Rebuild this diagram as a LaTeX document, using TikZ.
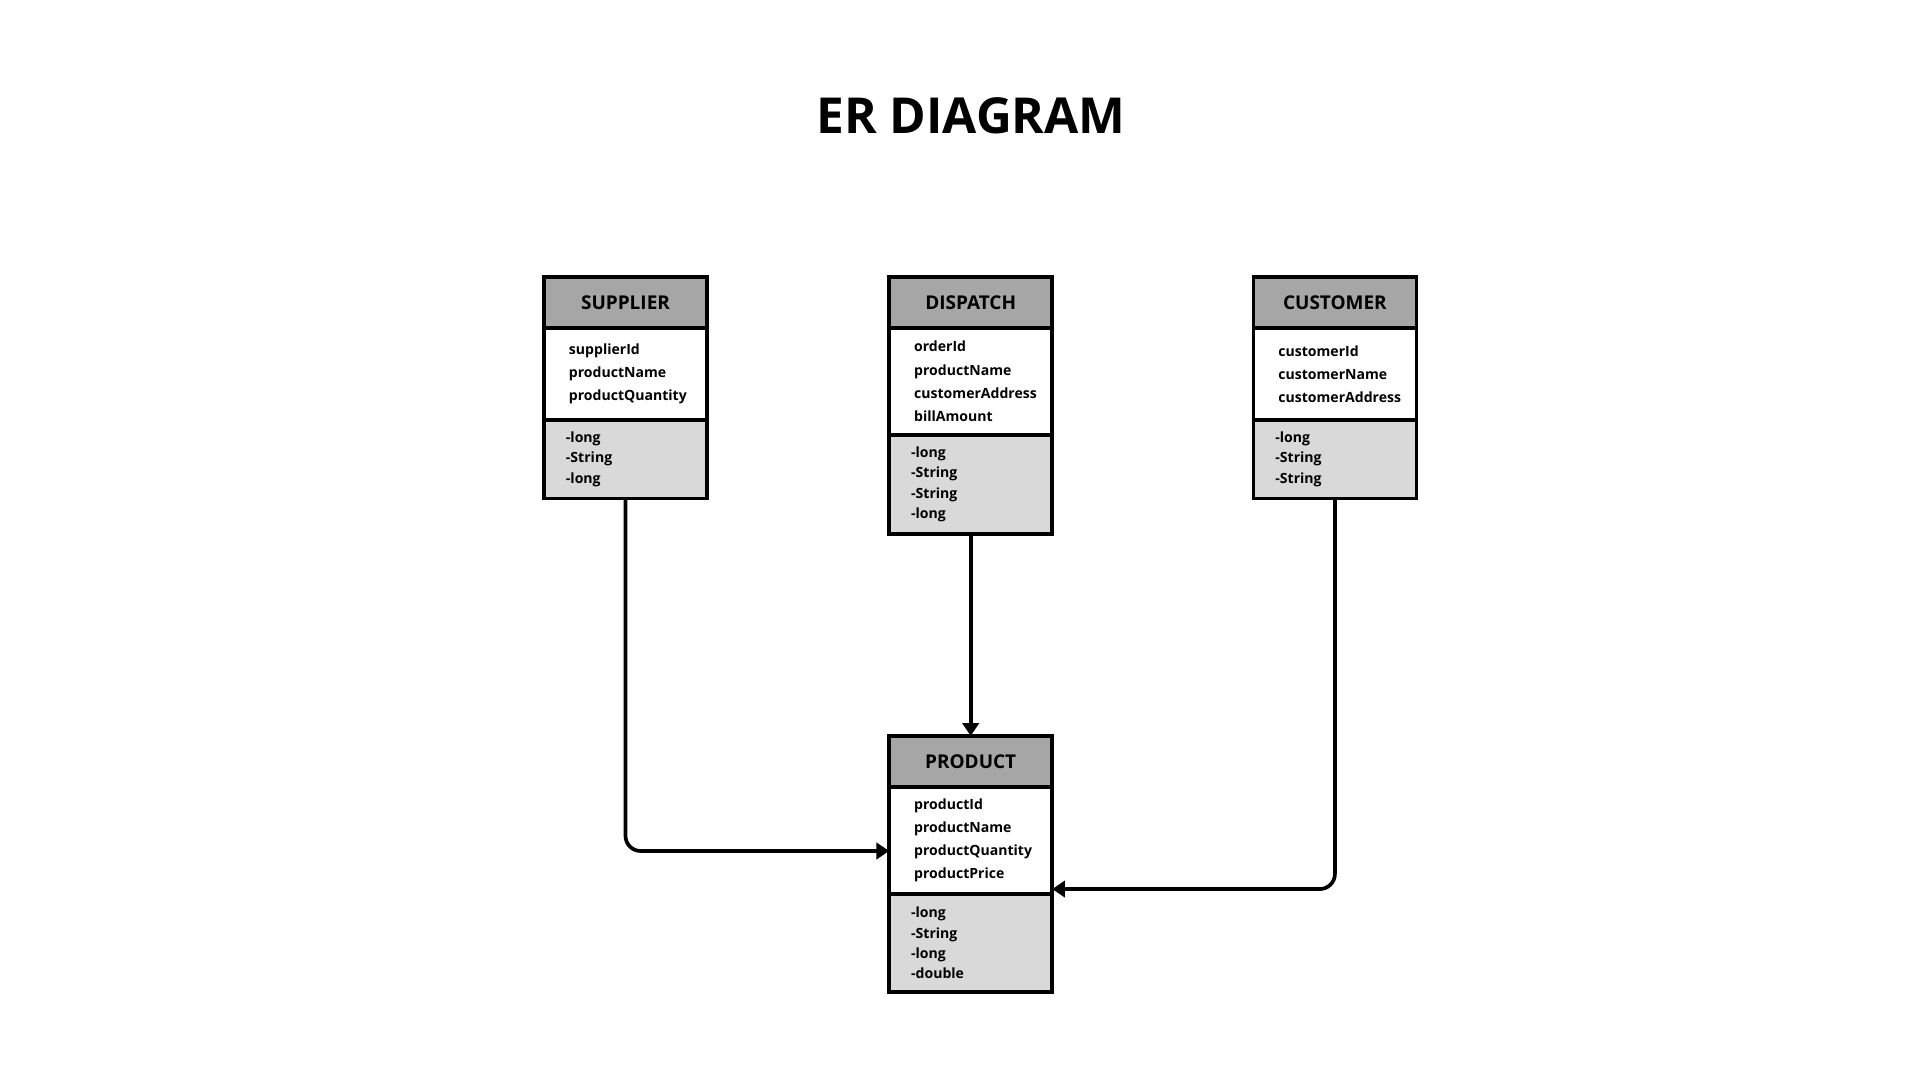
\documentclass[tikz,border=0pt]{standalone}
\usepackage{fontspec}
\setmainfont{Open Sans}
\usepackage{xcolor}
\usetikzlibrary{arrows.meta, positioning}

\definecolor{headgray}{HTML}{A6A6A6}
\definecolor{typegray}{HTML}{D9D9D9}

\begin{document}
\begin{tikzpicture}[
  x=0.01cm, y=-0.01cm,
  every node/.style={outer sep=0pt},
  head/.style={draw, line width=1.05pt, fill=headgray, minimum width=1.63cm,
               minimum height=0.51cm, font=\fontsize{5.4}{6}\selectfont\bfseries},
  attrs/.style={draw, line width=1.05pt, fill=white, inner xsep=0.25cm,
                text width=1.13cm, align=left, minimum height=#1,
                font=\fontsize{4}{6.6}\selectfont\bfseries},
  attrs/.default=0.92cm,
  types/.style={draw, line width=1.05pt, fill=typegray, inner xsep=0.22cm,
                text width=1.19cm, align=left, minimum height=#1,
                font=\fontsize{4}{5.8}\selectfont\bfseries},
  types/.default=0.75cm,
  link/.style={-{Triangle[length=3.6pt, width=4.6pt]}, line width=1.05pt}
]
  \fill[white] (0,0) rectangle (1920,1080);
  \useasboundingbox (0,0) rectangle (1920,1080);

  \node[font=\fontsize{14.1}{16}\selectfont\bfseries] (title) at (971,116) {ER DIAGRAM};

  % entity tables
  \node[head] (suphead) at (625.5,302.5) {SUPPLIER};
  \node[attrs, below=0pt of suphead] (supattr) {supplierId\\productName\\productQuantity};
  \node[types, below=0pt of supattr] (suptype) {-long\\-String\\-long};

  \node[head, right=1.82cm of suphead] (disphead) {DISPATCH};
  \node[attrs=1.07cm, below=0pt of disphead] (dispattr) {orderId\\productName\\customerAddress\\billAmount};
  \node[types=0.98cm, below=0pt of dispattr] (disptype) {-long\\-String\\-String\\-long};

  \node[head, right=2.01cm of disphead] (custhead) {CUSTOMER};
  \node[attrs, below=0pt of custhead] (custattr) {customerId\\customerName\\customerAddress};
  \node[types, below=0pt of custattr] (custtype) {-long\\-String\\-String};

  \node[head, below=2.02cm of disptype] (prodhead) {PRODUCT};
  \node[attrs=1.07cm, below=0pt of prodhead] (prodattr) {productId\\productName\\productQuantity\\productPrice};
  \node[types=0.98cm, below=0pt of prodattr] (prodtype) {-long\\-String\\-long\\-double};

  % relations
  \draw[link, rounded corners=4.3pt] (suptype.south) |- ([yshift=-0.105cm]prodattr.west);
  \draw[link] (disptype.south) -- (prodhead.north);
  \draw[link, rounded corners=4.3pt] (custtype.south) |- ([yshift=0.05cm]prodattr.south east);
\end{tikzpicture}
\end{document}
